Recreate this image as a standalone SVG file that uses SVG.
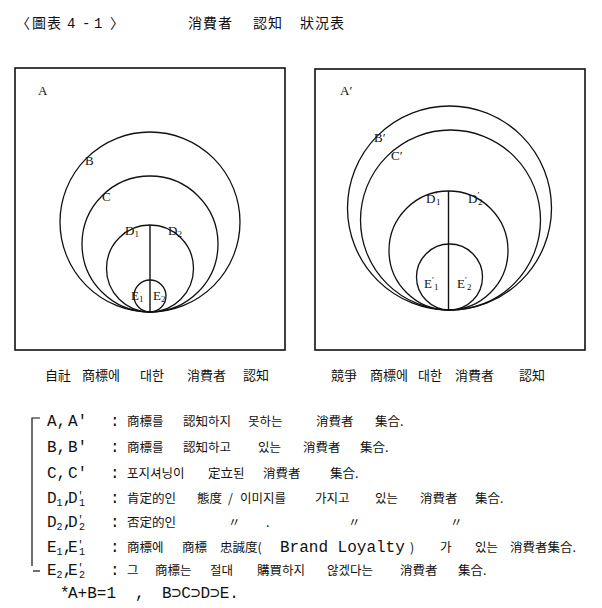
<svg xmlns="http://www.w3.org/2000/svg" width="602" height="608" viewBox="0 0 602 608">
<style>
.bg{fill:#fff}
.box{fill:none;stroke:#111;stroke-width:1.6}
.ring{fill:none;stroke:#111;stroke-width:1.3}
.div{stroke:#111;stroke-width:1.4}
.lbl{font-family:"Liberation Serif",serif;font-size:13px;fill:#111}
.sub{font-family:"Liberation Serif",serif;font-size:9px;fill:#111}
.cjk{font-family:"Noto Sans CJK KR","Noto Sans CJK SC",sans-serif;fill:#111}
.ttl{font-size:14px}
.cap{font-size:13px}
.leg{font-size:12.5px}
.lat{font-family:"Liberation Mono",monospace;font-size:16px;fill:#111}
.lsub{font-family:"Liberation Mono",monospace;font-size:10px;fill:#111}
</style>
<rect class="bg" x="0" y="0" width="602" height="608"/>

<g id="title">
<text class="cjk ttl" y="28"><tspan x="16">〈</tspan><tspan x="32">圖</tspan><tspan x="47">表</tspan></text>
<text class="lat" style="font-size:14px" y="28"><tspan x="67">4</tspan><tspan x="82">-</tspan><tspan x="94">1</tspan></text>
<text class="cjk ttl" x="110" y="28">〉</text>
<text class="cjk ttl" x="188" y="28" letter-spacing="1">消費者</text>
<text class="cjk ttl" x="253" y="28" letter-spacing="1">認知</text>
<text class="cjk ttl" x="300" y="28" letter-spacing="1">狀況表</text>
</g>

<g id="panel-left">
<rect id="A" class="box" x="15" y="68" width="270" height="282"/>
<g id="B"><circle class="ring" cx="150" cy="222" r="90"/></g>
<g id="C"><circle class="ring" cx="150" cy="244" r="68"/></g>
<g id="D"><circle class="ring" cx="150" cy="268.5" r="43.5"/></g>
<g id="E"><circle class="ring" cx="150" cy="296" r="16"/></g>
<text class="lbl" x="38" y="95">A</text>
<text class="lbl" x="85" y="165">B</text>
<text class="lbl" x="102" y="201">C</text>
<text class="lbl" x="125" y="235">D<tspan class="sub" dy="2">1</tspan></text>
<text class="lbl" x="168" y="235">D<tspan class="sub" dy="2">2</tspan></text>
<text class="lbl" x="131" y="300">E<tspan class="sub" dy="2">1</tspan></text>
<text class="lbl" x="153" y="300">E<tspan class="sub" dy="2">2</tspan></text>
</g>

<g id="panel-right">
<rect id="A2" class="box" x="315" y="69" width="270" height="281"/>
<g id="B2"><circle class="ring" cx="449.5" cy="208" r="102"/></g>
<g id="C2"><circle class="ring" cx="450.5" cy="220" r="90"/></g>
<g id="D2"><circle class="ring" cx="448.5" cy="250.5" r="59.5"/></g>
<g id="E2"><circle class="ring" cx="449.5" cy="277" r="33"/></g>
<text class="lbl" x="340" y="95">A′</text>
<text class="lbl" x="374" y="142">B′</text>
<text class="lbl" x="391" y="160">C′</text>
<text class="lbl" x="426" y="203">D<tspan class="sub" dy="-5">′</tspan><tspan class="sub" x="436" dy="7">1</tspan></text>
<text class="lbl" x="468" y="203">D<tspan class="sub" dy="-5">′</tspan><tspan class="sub" x="478" dy="7">2</tspan></text>
<text class="lbl" x="424" y="288">E<tspan class="sub" dy="-5">′</tspan><tspan class="sub" x="434" dy="7">1</tspan></text>
<text class="lbl" x="457" y="288">E<tspan class="sub" dy="-5">′</tspan><tspan class="sub" x="467" dy="7">2</tspan></text>
</g>

<g id="dividers">
<line class="div" x1="150" y1="225" x2="150" y2="312"/>
<line class="div" x1="448.5" y1="191" x2="448.5" y2="310"/>
</g>

<g id="captions">
<text class="cjk cap" y="380"><tspan x="45">自社</tspan><tspan x="82">商標에</tspan><tspan x="140">대한</tspan><tspan x="187">消費者</tspan><tspan x="243">認知</tspan></text>
<text class="cjk cap" y="380"><tspan x="331">競爭</tspan><tspan x="370">商標에</tspan><tspan x="418">대한</tspan><tspan x="455">消費者</tspan><tspan x="519">認知</tspan></text>
</g>

<g id="legend">
<path d="M40,418 H32 V566" fill="none" stroke="#111" stroke-width="1.2"/>
<line x1="33" y1="571" x2="40" y2="571" stroke="#111" stroke-width="1.2"/>

<text class="lat" y="426"><tspan x="47">A,</tspan><tspan x="68">A′</tspan><tspan x="110">:</tspan></text>
<text class="cjk leg" y="426"><tspan x="127">商標를</tspan><tspan x="183">認知하지</tspan><tspan x="248">못하는</tspan><tspan x="316">消費者</tspan><tspan x="375">集合.</tspan></text>

<text class="lat" y="452"><tspan x="47">B,</tspan><tspan x="68">B′</tspan><tspan x="110">:</tspan></text>
<text class="cjk leg" y="452"><tspan x="127">商標를</tspan><tspan x="183">認知하고</tspan><tspan x="258">있는</tspan><tspan x="303">消費者</tspan><tspan x="360">集合.</tspan></text>

<text class="lat" y="478"><tspan x="47">C,</tspan><tspan x="68">C′</tspan><tspan x="110">:</tspan></text>
<text class="cjk leg" y="478"><tspan x="127">포지셔닝이</tspan><tspan x="208">定立된</tspan><tspan x="263">消費者</tspan><tspan x="330">集合.</tspan></text>

<text class="lat" x="47" y="503">D<tspan class="lsub" dy="3">1</tspan><tspan dy="-3">,</tspan><tspan x="68">D</tspan><tspan class="lsub" dy="-4">′</tspan><tspan class="lsub" x="79" dy="7">1</tspan><tspan x="110" dy="-3">:</tspan></text>
<text class="cjk leg" y="503"><tspan x="127">肯定的인</tspan><tspan x="197">態度</tspan><tspan x="228">/</tspan><tspan x="240">이미지를</tspan><tspan x="315">가지고</tspan><tspan x="375">있는</tspan><tspan x="420">消費者</tspan><tspan x="475">集合.</tspan></text>

<text class="lat" x="47" y="527">D<tspan class="lsub" dy="3">2</tspan><tspan dy="-3">,</tspan><tspan x="68">D</tspan><tspan class="lsub" dy="-4">′</tspan><tspan class="lsub" x="79" dy="7">2</tspan><tspan x="110" dy="-3">:</tspan></text>
<text class="cjk leg" y="527"><tspan x="127">否定的인</tspan><tspan x="228">〃</tspan><tspan x="266">.</tspan><tspan x="348">〃</tspan><tspan x="450">〃</tspan></text>

<text class="lat" x="47" y="552">E<tspan class="lsub" dy="3">1</tspan><tspan dy="-3">,</tspan><tspan x="68">E</tspan><tspan class="lsub" dy="-4">′</tspan><tspan class="lsub" x="79" dy="7">1</tspan><tspan x="110" dy="-3">:</tspan></text>
<text class="cjk leg" y="552"><tspan x="127">商標에</tspan><tspan x="182">商標</tspan><tspan x="220">忠誠度(</tspan></text>
<text class="lat" x="280" y="552">Brand Loyalty</text>
<text class="cjk leg" y="552"><tspan x="410">)</tspan><tspan x="440">가</tspan><tspan x="475">있는</tspan><tspan x="510">消費者集合.</tspan></text>

<text class="lat" x="47" y="575">E<tspan class="lsub" dy="3">2</tspan><tspan dy="-3">,</tspan><tspan x="68">E</tspan><tspan class="lsub" dy="-4">′</tspan><tspan class="lsub" x="79" dy="7">2</tspan><tspan x="110" dy="-3">:</tspan></text>
<text class="cjk leg" y="575"><tspan x="127">그</tspan><tspan x="155">商標는</tspan><tspan x="210">절대</tspan><tspan x="257">購買하지</tspan><tspan x="327">않겠다는</tspan><tspan x="400">消費者</tspan><tspan x="458">集合.</tspan></text>

<text class="lat" y="598"><tspan x="60">*</tspan><tspan x="68">A+B=1</tspan><tspan x="135">,</tspan><tspan x="162">B⊃C⊃D⊃E.</tspan></text>
</g>
</svg>
